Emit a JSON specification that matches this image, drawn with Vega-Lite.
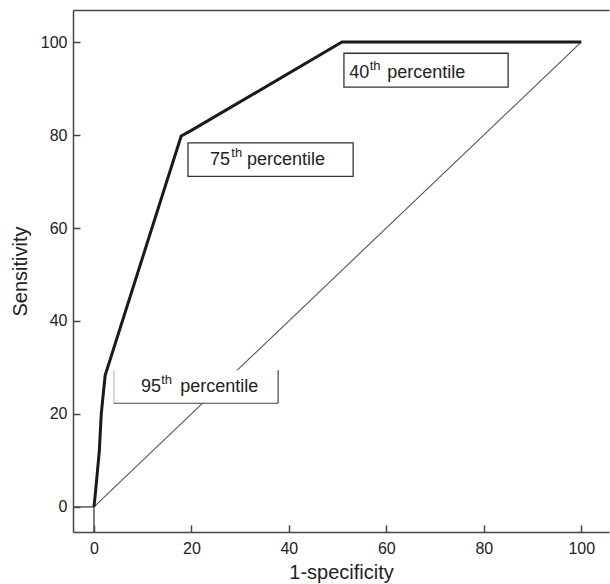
{
  "$schema": "https://vega.github.io/schema/vega-lite/v6.json",
  "width": 536,
  "height": 522,
  "autosize": {"type": "none"},
  "padding": {"left": 73, "top": 10, "right": 1, "bottom": 52},
  "background": "white",
  "config": {
    "view": {"stroke": null},
    "font": "Liberation Sans",
    "axis": {
      "grid": false,
      "domainColor": "#444",
      "domainWidth": 1.5,
      "tickColor": "#444",
      "tickWidth": 1.5,
      "tickSize": -7,
      "labelFontSize": 16,
      "labelColor": "#222",
      "titleFontSize": 20,
      "titleFontWeight": "normal",
      "titleColor": "#222"
    }
  },
  "datasets": {
    "roc": [
      {"fpr": 0, "tpr": 0},
      {"fpr": 0.3, "tpr": 3},
      {"fpr": 1.1, "tpr": 12},
      {"fpr": 1.5, "tpr": 20},
      {"fpr": 2.3, "tpr": 28.3},
      {"fpr": 17.9, "tpr": 79.8},
      {"fpr": 20, "tpr": 81},
      {"fpr": 50.9, "tpr": 100},
      {"fpr": 100, "tpr": 100}
    ],
    "diag": [{"fpr": 0, "tpr": 0}, {"fpr": 100, "tpr": 100}],
    "boxes": [
      {"x": 51.3, "x2": 85.0, "y": 90.3, "y2": 97.6},
      {"x": 19.3, "x2": 53.2, "y": 71.1, "y2": 78.3}
    ],
    "box95": [{"x": 4.1, "x2": 37.8, "y": 22.3, "y2": 29.4}],
    "edges": [
      {"x": 4.1, "x2": 4.1, "y": 22.3, "y2": 29.4, "tone": "light"},
      {"x": 4.1, "x2": 37.8, "y": 22.3, "y2": 22.3, "tone": "dark"},
      {"x": 37.8, "x2": 37.8, "y": 22.3, "y2": 29.4, "tone": "dark"}
    ],
    "origin": [
      {"x": -4.3, "x2": 0, "y": 0, "y2": 0},
      {"x": 0, "x2": 0, "y": -5.4, "y2": 0}
    ],
    "labels": [
      {"x": 52.4, "y": 92.3, "text": "40", "kind": "num"},
      {"x": 56.6, "y": 92.3, "text": "th", "kind": "sup"},
      {"x": 60.2, "y": 92.3, "text": "percentile", "kind": "word"},
      {"x": 23.8, "y": 73.5, "text": "75", "kind": "num"},
      {"x": 28.2, "y": 73.5, "text": "th", "kind": "sup"},
      {"x": 31.4, "y": 73.5, "text": "percentile", "kind": "word"},
      {"x": 9.65, "y": 24.7, "text": "95", "kind": "num"},
      {"x": 13.8, "y": 24.7, "text": "th", "kind": "sup"},
      {"x": 17.7, "y": 24.7, "text": "percentile", "kind": "word"}
    ]
  },
  "resolve": {"axis": {"x": "independent", "y": "independent"}},
  "layer": [
    {
      "data": {"name": "origin"},
      "mark": {"type": "rule", "color": "#555", "strokeWidth": 1.5},
      "encoding": {
        "x": {"field": "x", "type": "quantitative", "scale": {"domain": [-4.3, 105.7], "nice": false, "zero": false},
          "axis": {"values": [0, 20, 40, 60, 80, 100], "title": "1-specificity", "labelPadding": 15, "titlePadding": 6}},
        "x2": {"field": "x2"},
        "y": {"field": "y", "type": "quantitative", "scale": {"domain": [-5.4, 106.9], "nice": false, "zero": false},
          "axis": {"values": [0, 20, 40, 60, 80, 100], "title": "Sensitivity", "labelPadding": 13, "titlePadding": 10}},
        "y2": {"field": "y2"}
      }
    },
    {
      "data": {"name": "diag"},
      "mark": {"type": "line", "color": "#555", "strokeWidth": 1.1},
      "encoding": {
        "x": {"field": "fpr", "type": "quantitative",
          "axis": {"orient": "top", "labels": false, "ticks": false, "title": null, "domainColor": "#444", "domainWidth": 1.5}},
        "y": {"field": "tpr", "type": "quantitative", "axis": null}
      }
    },
    {
      "data": {"name": "roc"},
      "mark": {"type": "line", "color": "#1a1a1a", "strokeWidth": 3, "strokeJoin": "miter"},
      "encoding": {
        "x": {"field": "fpr", "type": "quantitative", "axis": null},
        "y": {"field": "tpr", "type": "quantitative", "axis": null}
      }
    },
    {
      "data": {"name": "boxes"},
      "mark": {"type": "rect", "fill": "white", "stroke": "#333", "strokeWidth": 1.3},
      "encoding": {
        "x": {"field": "x", "type": "quantitative", "axis": null},
        "x2": {"field": "x2"},
        "y": {"field": "y", "type": "quantitative", "axis": null},
        "y2": {"field": "y2"}
      }
    },
    {
      "data": {"name": "box95"},
      "mark": {"type": "rect", "fill": "white", "strokeWidth": 0},
      "encoding": {
        "x": {"field": "x", "type": "quantitative", "axis": null},
        "x2": {"field": "x2"},
        "y": {"field": "y", "type": "quantitative", "axis": null},
        "y2": {"field": "y2"}
      }
    },
    {
      "data": {"name": "edges"},
      "mark": {"type": "rule", "strokeWidth": 1.2},
      "encoding": {
        "x": {"field": "x", "type": "quantitative", "axis": null},
        "x2": {"field": "x2"},
        "y": {"field": "y", "type": "quantitative", "axis": null},
        "y2": {"field": "y2"},
        "color": {"field": "tone", "type": "nominal", "scale": {"domain": ["light", "dark"], "range": ["#bbb", "#444"]}, "legend": null}
      }
    },
    {
      "data": {"name": "labels"},
      "transform": [{"filter": "datum.kind !== 'sup'"}],
      "mark": {"type": "text", "align": "left", "baseline": "alphabetic", "fontSize": 18, "color": "#222"},
      "encoding": {
        "x": {"field": "x", "type": "quantitative", "axis": null},
        "y": {"field": "y", "type": "quantitative", "axis": null},
        "text": {"field": "text"}
      }
    },
    {
      "data": {"name": "labels"},
      "transform": [{"filter": "datum.kind === 'sup'"}],
      "mark": {"type": "text", "align": "left", "baseline": "alphabetic", "fontSize": 13, "dy": -8, "color": "#222"},
      "encoding": {
        "x": {"field": "x", "type": "quantitative", "axis": null},
        "y": {"field": "y", "type": "quantitative", "axis": null},
        "text": {"field": "text"}
      }
    }
  ]
}
